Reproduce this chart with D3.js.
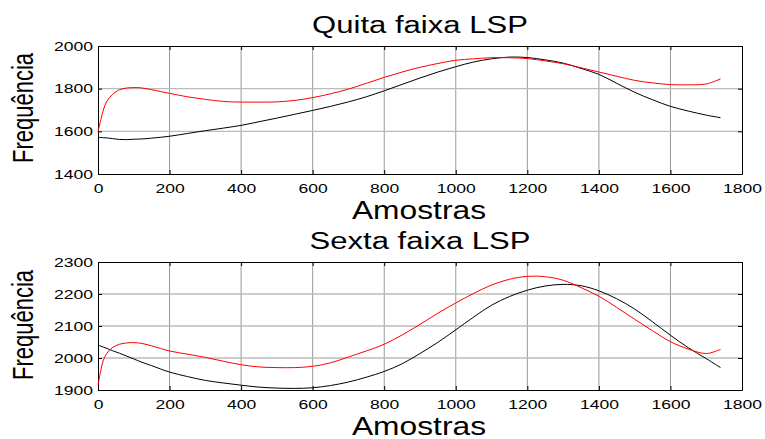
<!DOCTYPE html>
<head>
	<meta charset="utf-8">
	<title>Faixas LSP</title>
	<style>
	body { margin: 0; background: #fff; }
	text { font-family: Arial, "Liberation Sans", sans-serif; fill: #000; }
	.grid-x { stroke: #999; stroke-width: 1; }
	.grid-y { stroke: #bbb; stroke-width: 1.3; }
	.axis path, .axis line { stroke: #000; stroke-width: 1; }
	</style>
</head>
<body>
<script src="https://d3js.org/d3.v7.min.js"></script>
<script>

var width = 765, height = 439
var stretch = 1.35  // the original picture is widened horizontally

// amostras
var amostras = [0, 8, 15, 25, 40, 60, 80, 100, 120, 150, 200, 250, 300, 350, 400, 450, 500, 550, 600, 650,
	700, 750, 800, 850, 900, 950, 1000, 1050, 1100, 1150, 1200, 1250, 1300, 1350, 1400, 1450, 1500, 1550,
	1600, 1650, 1700, 1740];

// Quita faixa LSP
var quitaVermelho = [1598, 1655, 1700, 1742, 1772, 1795, 1803, 1805, 1804, 1795, 1778, 1762, 1750, 1740, 1737, 1737,
	1738, 1745, 1758, 1776, 1798, 1825, 1853, 1878, 1900, 1918, 1933, 1940, 1945, 1945, 1941, 1930, 1917, 1898,
	1878, 1858, 1839, 1827, 1819, 1818, 1822, 1846];
var quitaPreto = [1572, 1571, 1570, 1569, 1566, 1562, 1561, 1563, 1564, 1568, 1577, 1590, 1603, 1615, 1628, 1645,
	1662, 1680, 1698, 1717, 1738, 1762, 1790, 1820, 1850, 1878, 1903, 1925, 1940, 1948, 1946, 1935, 1920, 1895,
	1867, 1825, 1783, 1748, 1717, 1695, 1676, 1664];

// Sexta faixa LSP
var sextaVermelho = [1915, 1962, 1993, 2015, 2032, 2043, 2047, 2048, 2046, 2038, 2022, 2012, 2002, 1990, 1979, 1972,
	1970, 1970, 1974, 1985, 2003, 2022, 2043, 2072, 2105, 2140, 2172, 2202, 2228, 2246, 2255, 2254, 2243, 2220,
	2193, 2158, 2121, 2085, 2051, 2028, 2014, 2027];
var sextaPreto = [2040, 2037, 2034, 2030, 2023, 2015, 2006, 1997, 1988, 1976, 1956, 1942, 1930, 1922, 1915, 1909,
	1906, 1905, 1907, 1914, 1925, 1940, 1958, 1982, 2014, 2049, 2088, 2128, 2165, 2192, 2212, 2225, 2230, 2226,
	2210, 2185, 2153, 2113, 2071, 2032, 1998, 1970];

var xTicks = [0, 200, 400, 600, 800, 1000, 1200, 1400, 1600, 1800];
var quitaTicks = [1400, 1600, 1800, 2000];
var sextaTicks = [1900, 2000, 2100, 2200, 2300];

var svg = d3.select("body")
	.append("svg")
	.attr("width", width)
	.attr("height", height);

function widen(sel, k) {
	sel.each(function() {
		var w = this.getComputedTextLength();
		d3.select(this).attr("textLength", w * k).attr("lengthAdjust", "spacingAndGlyphs");
	});
}

function painel(titulo, top, bottom, yTicks, vermelho, preto, yLabelCenter) {
	var x = d3.scaleLinear().domain([0, 1800]).range([98, 742]);
	var y = d3.scaleLinear().domain([yTicks[0], yTicks[yTicks.length - 1]]).range([bottom, top]);

	var g = svg.append("g");

	// grid
	g.selectAll(".grid-x")
		.data(xTicks.slice(1, -1))
		.enter().append("line")
		.attr("class", "grid-x")
		.attr("x1", function(d) { return x(d); })
		.attr("x2", function(d) { return x(d); })
		.attr("y1", top)
		.attr("y2", bottom);

	g.selectAll(".grid-y")
		.data(yTicks.slice(1, -1))
		.enter().append("line")
		.attr("class", "grid-y")
		.attr("x1", x(0))
		.attr("x2", x(1800))
		.attr("y1", function(d) { return y(d); })
		.attr("y2", function(d) { return y(d); });

	// axes, ticks inside as in matlab
	var fmt = d3.format("d");
	var ax = g.append("g").attr("class", "axis")
		.attr("transform", "translate(0," + bottom + ")")
		.call(d3.axisBottom(x).tickValues(xTicks).tickFormat(fmt).tickSizeInner(-4).tickSizeOuter(0).tickPadding(10));
	g.append("g").attr("class", "axis")
		.attr("transform", "translate(0," + top + ")")
		.call(d3.axisTop(x).tickValues(xTicks).tickSizeInner(-4).tickSizeOuter(0).tickFormat(""));
	var ay = g.append("g").attr("class", "axis")
		.attr("transform", "translate(" + x(0) + ",0)")
		.call(d3.axisLeft(y).tickValues(yTicks).tickFormat(fmt).tickSizeInner(-4).tickSizeOuter(0).tickPadding(5));
	g.append("g").attr("class", "axis")
		.attr("transform", "translate(" + x(1800) + ",0)")
		.call(d3.axisRight(y).tickValues(yTicks).tickSizeInner(-4).tickSizeOuter(0).tickFormat(""));

	g.selectAll(".axis").attr("font-family", null).attr("font-size", null);
	ax.selectAll("text").style("font-size", "13px");
	ay.selectAll("text").style("font-size", "13px");
	widen(ax.selectAll("text"), stretch);
	widen(ay.selectAll("text"), stretch);

	// series
	var line = d3.line()
		.x(function(d, i) { return x(amostras[i]); })
		.y(function(d) { return y(d); })
		.curve(d3.curveCatmullRom.alpha(0.5));

	g.append("path").datum(preto)
		.attr("fill", "none").attr("stroke", "#000").attr("stroke-width", 1)
		.attr("d", line);
	g.append("path").datum(vermelho)
		.attr("fill", "none").attr("stroke", "#ff0000").attr("stroke-width", 1)
		.attr("d", line);

	// labels
	var t = g.append("text")
		.attr("x", 420).attr("y", top - 13)
		.attr("text-anchor", "middle")
		.style("font-size", "23px")
		.text(titulo);
	widen(t, stretch);

	var xl = g.append("text")
		.attr("x", 419).attr("y", bottom + 45)
		.attr("text-anchor", "middle")
		.style("font-size", "25px")
		.text("Amostras");
	widen(xl, 1.27);

	g.append("text")
		.attr("transform", "translate(33," + yLabelCenter + ") scale(" + stretch + ",1) rotate(-90)")
		.attr("text-anchor", "middle")
		.style("font-size", "22px")
		.text("Frequência");
}

painel("Quita faixa LSP", 46, 174, quitaTicks, quitaVermelho, quitaPreto, 108);
painel("Sexta faixa LSP", 262, 390, sextaTicks, sextaVermelho, sextaPreto, 325);

</script>
